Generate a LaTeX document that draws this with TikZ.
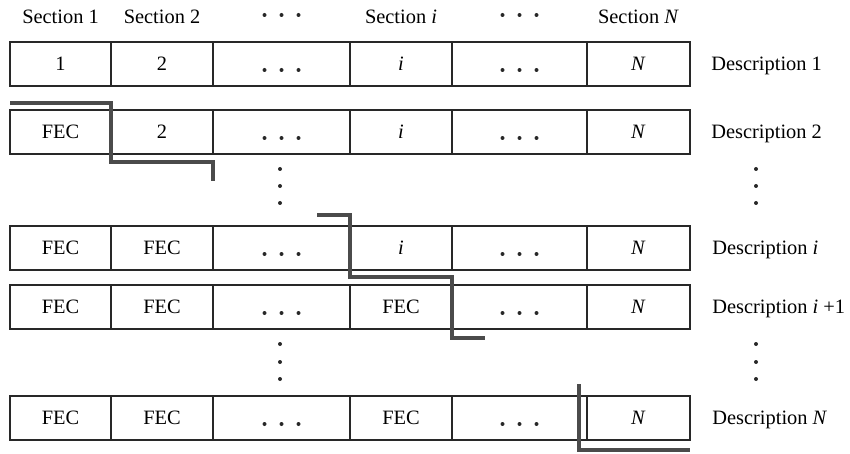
\documentclass[tikz,border=0pt]{standalone}
\usepackage{fontspec}
\setmainfont{Liberation Serif}
\newfontfamily\timesfont{Liberation Serif}
\usepackage{tikz}
\usetikzlibrary{positioning,calc}
\definecolor{edgegray}{RGB}{40,40,40}
\definecolor{cutgray}{RGB}{75,75,75}
\tikzset{
  cell/.style={draw=edgegray, line width=1pt, minimum height=22pt,
    inner sep=0pt, outer sep=0pt, align=center, text depth=0pt},
  wA/.style={minimum width=50.5pt},
  wB/.style={minimum width=51pt},
  wC/.style={minimum width=68.5pt},
  wD/.style={minimum width=51pt},
  wE/.style={minimum width=67.5pt},
  wF/.style={minimum width=51.5pt},
  head/.style={inner sep=0pt, text depth=0pt},
  desc/.style={inner sep=0pt, text depth=0pt, anchor=west},
  cut/.style={draw=cutgray, line width=1.6pt},
  dotmark/.style={fill=edgegray}
}

\begin{document}
\begin{tikzpicture}[x=0.5pt, y=-0.5pt, font=\timesfont\fontsize{10.2}{12}\selectfont]
\useasboundingbox (0,0) rectangle (850,454);

% description 1
\node[cell, wA, anchor=north west] (r1c1) at (10,42) {1};
\node[cell, wB, right=0pt of r1c1] (r1c2) {2};
\node[cell, wC, right=0pt of r1c2] (r1c3) {};
\node[cell, wD, right=0pt of r1c3] (r1c4) {\textit{i}};
\node[cell, wE, right=0pt of r1c4] (r1c5) {};
\node[cell, wF, right=0pt of r1c5] (r1c6) {\textit{N}};

% description 2
\node[cell, wA, below=12pt of r1c1] (r2c1) {FEC};
\node[cell, wB, right=0pt of r2c1] (r2c2) {2};
\node[cell, wC, right=0pt of r2c2] (r2c3) {};
\node[cell, wD, right=0pt of r2c3] (r2c4) {\textit{i}};
\node[cell, wE, right=0pt of r2c4] (r2c5) {};
\node[cell, wF, right=0pt of r2c5] (r2c6) {\textit{N}};

% description i
\node[cell, wA, below=36pt of r2c1] (rIc1) {FEC};
\node[cell, wB, right=0pt of rIc1] (rIc2) {FEC};
\node[cell, wC, right=0pt of rIc2] (rIc3) {};
\node[cell, wD, right=0pt of rIc3] (rIc4) {\textit{i}};
\node[cell, wE, right=0pt of rIc4] (rIc5) {};
\node[cell, wF, right=0pt of rIc5] (rIc6) {\textit{N}};

% description i+1
\node[cell, wA, below=7.5pt of rIc1] (rJc1) {FEC};
\node[cell, wB, right=0pt of rJc1] (rJc2) {FEC};
\node[cell, wC, right=0pt of rJc2] (rJc3) {};
\node[cell, wD, right=0pt of rJc3] (rJc4) {FEC};
\node[cell, wE, right=0pt of rJc4] (rJc5) {};
\node[cell, wF, right=0pt of rJc5] (rJc6) {\textit{N}};

% description N
\node[cell, wA, below=33.5pt of rJc1] (rNc1) {FEC};
\node[cell, wB, right=0pt of rNc1] (rNc2) {FEC};
\node[cell, wC, right=0pt of rNc2] (rNc3) {};
\node[cell, wD, right=0pt of rNc3] (rNc4) {FEC};
\node[cell, wE, right=0pt of rNc4] (rNc5) {};
\node[cell, wF, right=0pt of rNc5] (rNc6) {\textit{N}};

% headers
\node[head, above=9pt of r1c1] (sec1) {Section 1};
\node[head, above=9pt of r1c2] (sec2) {Section 2};
\node[head, above=9pt of r1c4] (secI) {Section \textit{i}};
\node[head, above=9pt of r1c6] (secN) {Section \textit{N}};

% row labels
\node[desc, right=10.5pt of r1c6] (desc1) {Description 1};
\node[desc, right=10.5pt of r2c6] (desc2) {Description 2};
\node[desc, right=11pt of rIc6] (descI) {Description \textit{i}};
\node[desc, right=11pt of rJc6] (descJ) {Description \textit{i} +1};
\node[desc, right=11pt of rNc6] (descN) {Description \textit{N}};

% ellipsis dots
\foreach \c in {r1c3,r1c5}
  \foreach \dx in {-8.5,0,8.5}
    \fill[dotmark] ([xshift=\dx pt, yshift=24.5pt]\c.center) circle (1pt);
\foreach \c in {r1c3,r1c5,r2c3,r2c5,rIc3,rIc5,rJc3,rJc5,rNc3,rNc5}
  \foreach \dx in {-8.5,0,8.5}
    \fill[dotmark] ([xshift=\dx pt, yshift=-3pt]\c.center) circle (1pt);
\foreach \x in {280,756} {
  \foreach \y in {169,186,203} \fill[dotmark] (\x,\y) circle (1pt);
  \foreach \y in {344,362,379} \fill[dotmark] (\x,\y) circle (1pt);
}

% fec boundaries
\draw[cut] ([yshift=3.5pt]r2c1.north west) -| ([yshift=-4pt]r2c1.south east)
  -| ([yshift=-13.5pt]r2c2.south east);
\draw[cut] ([xshift=-16.5pt, yshift=5.5pt]rIc3.north east) -| ([yshift=-3.5pt]rIc3.south east)
  -| ([yshift=-4.5pt]rJc4.south east) -- ++(16.5pt,0);
\draw[cut] ([xshift=-4pt, yshift=6pt]rNc5.north east) |- ([yshift=-5pt]rNc6.south east);
\end{tikzpicture}
\end{document}
